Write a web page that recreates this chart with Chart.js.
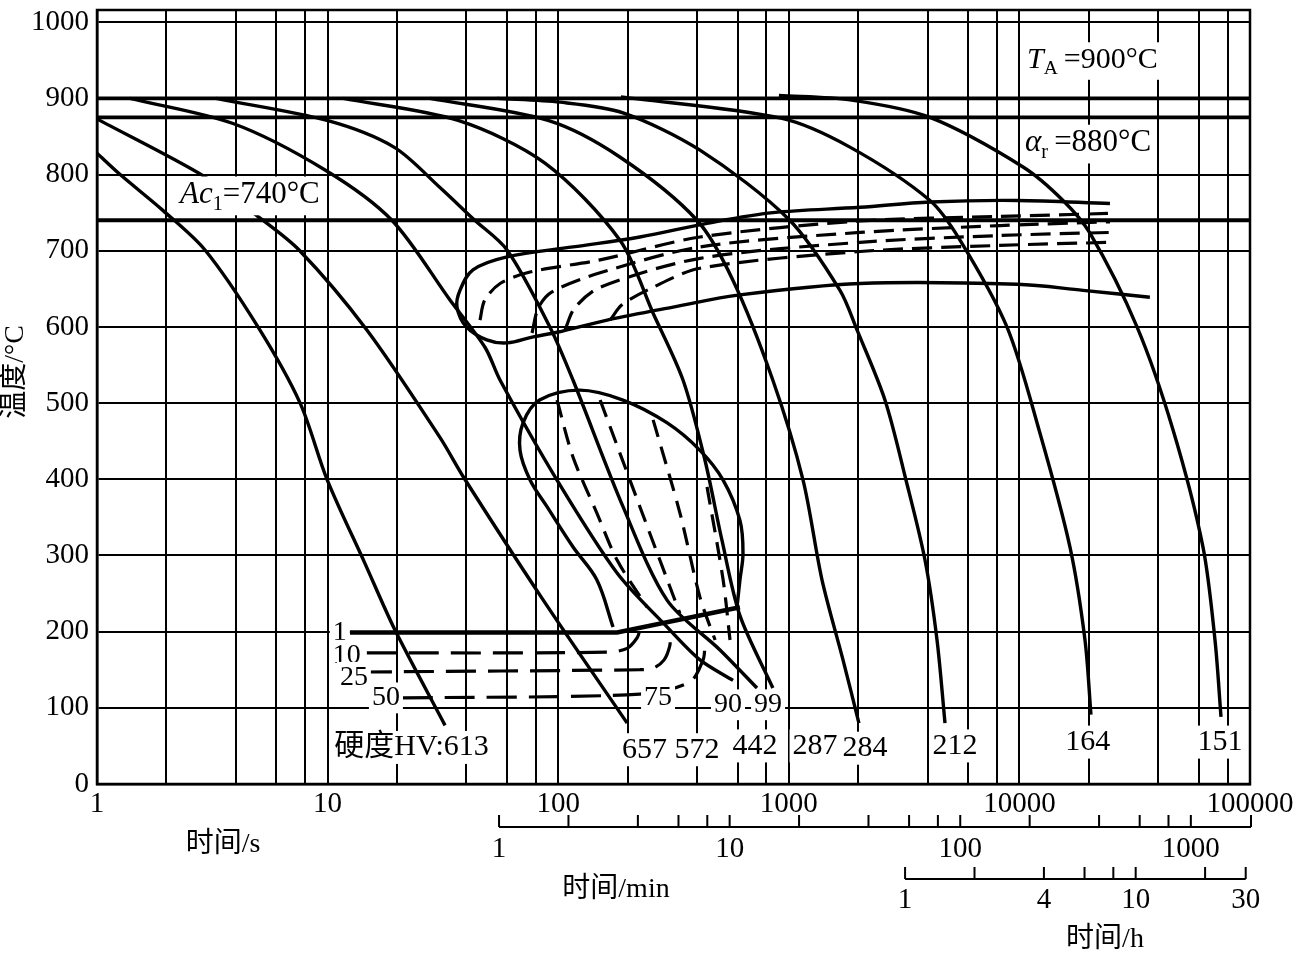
<!DOCTYPE html>
<html>
<head>
<meta charset="utf-8">
<script src="https://cdn.jsdelivr.net/npm/chart.js@4.4.1/dist/chart.umd.min.js"></script>
<style>
  html, body { margin: 0; padding: 0; background: #fff; }
  canvas { display: block; }
</style>
</head>
<body>
<canvas id="cct" width="1293" height="954"></canvas>
<script>
// grid and tick values (time in s, temperature in °C)
const xGridValues = [1, 2, 4, 6, 8, 10, 20, 40, 60, 80, 100, 200, 400, 600, 800, 1000,
  2000, 4000, 6000, 8000, 10000, 20000, 40000, 60000, 80000, 100000];
const xLabelValues = [1, 10, 100, 1000, 10000, 100000];
const yTickValues = [0, 100, 200, 300, 400, 500, 600, 700, 800, 900, 1000];
const criticalTemps = [900, 875, 740]; // T_A, alpha_r, Ac1

// cooling curves [time s, temp °C]
const curve613 = [[1, 828], [1.26, 800], [1.93, 753], [2.94, 701], [4.99, 600], [7.6, 500], [9.94, 400], [14.5, 290], [19.6, 202], [32.3, 77]];
const curve657 = [[1, 873], [2.94, 797], [4.89, 747], [7.52, 701], [14.8, 596], [30.7, 455], [39, 402], [85, 244], [199, 80]];
const curve572 = [[1.39, 900], [3.89, 867], [9.75, 806], [19, 740], [34, 635], [48.2, 573], [56, 530], [98.8, 399], [180, 277], [297, 206], [412, 163], [573, 136]];
const curve442 = [[3.28, 900], [9.94, 871], [19.4, 836], [30.7, 783], [43.1, 741], [60, 701], [92, 600], [116, 530], [191, 364], [297, 241], [503, 176], [728, 126]];
const curve287 = [[11.7, 900], [36.8, 871], [87.6, 815], [185, 714], [258, 618], [348, 530], [433, 425], [513, 320], [614, 221], [853, 126]];
const curve284 = [[27.8, 900], [90.3, 871], [185, 823], [400, 740], [573, 661], [853, 530], [1153, 399], [1393, 268], [1718, 163], [2014, 80]];
const curve212 = [[54.3, 900], [102, 895], [191, 881], [412, 832], [1002, 741], [1667, 648], [1976, 596], [2612, 504], [3222, 399], [3896, 294], [4393, 189], [4757, 80]];
const curve164 = [[187, 902], [925, 874], [1841, 836], [4093, 766], [5527, 714], [8830, 600], [12160, 465], [16570, 311], [19250, 189], [20430, 91]];
const curve151 = [[906, 904], [1841, 898], [4093, 875], [10370, 810], [15460, 766], [20230, 723], [32360, 600], [46350, 465], [62540, 311], [70500, 189], [74870, 88]];
const coolingCurves = [curve613, curve657, curve572, curve442, curve287, curve284, curve212, curve164, curve151];
const hardness = [613, 657, 572, 442, 287, 284, 212, 164, 151];

// ferrite/pearlite region
const pearliteOutline = [[24700, 762], [9770, 766], [4100, 764], [2037, 757], [854, 750], [442, 736], [226, 718], [116, 705], [60, 692],
  [42.7, 675], [37.5, 648], [36.4, 626], [40, 600], [49, 583], [60, 579], [78, 587], [99, 593], [163, 609], [315, 626], [614, 642],
  [2037, 657], [9770, 656], [18900, 648], [36800, 639]];
const pearlite10 = [[45.8, 609], [48, 635], [56, 657], [75.5, 672], [152, 688], [412, 718], [2037, 739], [8240, 745], [24700, 749]];
const pearlite25 = [[77, 592], [82, 625], [94, 646], [152, 671], [412, 705], [2037, 724], [8240, 733], [24700, 738]];
const pearlite50 = [[107, 596], [118, 625], [152, 652], [412, 690], [2037, 711], [8240, 720], [24700, 724]];
const pearlite75 = [[168, 609], [189, 629], [250, 650], [412, 677], [2037, 699], [8240, 707], [24700, 711]];

// bainite region
const bainiteOutline = [[173, 206], [147, 268], [116, 311], [89.4, 364], [75.5, 399], [68.3, 438], [70.4, 474], [83, 504], [124, 517],
  [191, 504], [297, 474], [412, 438], [519, 399], [614, 346], [633, 303], [614, 268], [596, 232]];
const bainiteA = [[98.8, 504], [116, 429], [147, 356], [180, 294], [243, 232]];
const bainiteB = [[152, 504], [226, 364], [337, 224]];
const bainiteC = [[258, 478], [337, 356], [412, 245], [479, 189]];
const bainiteD = [[442, 390], [519, 268], [556, 189]];

// martensite percent lines
const line1 = [[12.5, 199], [180, 199], [614, 232]];
const line10 = [[14.8, 172], [163, 173], [199, 178], [220, 192], [226, 202]];
const line25 = [[14.1, 147], [226, 150], [258, 152], [288, 163], [305, 182], [305, 195]];
const line50 = [[21.2, 113], [226, 118], [372, 134], [425, 163], [433, 182]];
const percentLabels = ['1', '10', '25', '50', '75', '90', '99'];

// secondary time axes
const minuteTicks = [1, 2, 4, 6, 8, 10, 20, 40, 60, 80, 100, 200, 400, 600, 800, 1000];
const minuteLabels = [1, 10, 100, 1000];
const hourTicks = [1, 2, 4, 6, 8, 10, 20, 30];
const hourLabels = [1, 4, 10, 30];

// label placement (time s, temp °C)
const hardnessPos = [[50, 48], [237, 45], [400, 45], [713, 50], [1300, 50], [2140, 47], [5260, 50], [19800, 55], [74100, 55]];
const percentPos = [[11.3, 199], [12.1, 169], [13.0, 140], [17.9, 113], [271, 114], [545, 104], [813, 104]];

const SERIF = '"Liberation Serif", "Times New Roman", "Noto Sans CJK SC", serif';

function pts(arr) {
  return arr.map(([x, y]) => ({ x, y }));
}
function solid(arr, width, tension) {
  return { data: pts(arr), borderColor: '#000', borderWidth: width, tension: tension, showLine: true, pointRadius: 0 };
}
function dashed(arr, dash, tension) {
  const ds = solid(arr, 3.2, tension);
  ds.borderDash = dash;
  return ds;
}

const datasets = [];
criticalTemps.forEach(t => datasets.push(solid([[1, t], [100000, t]], 3.8, 0)));
coolingCurves.forEach(c => datasets.push(solid(c, 3.4, 0.3)));
datasets.push(solid(pearliteOutline, 3.4, 0.35));
[pearlite10, pearlite25, pearlite50, pearlite75].forEach(c => datasets.push(dashed(c, [20, 9], 0.3)));
datasets.push(solid(bainiteOutline, 3.4, 0.35));
[bainiteA, bainiteB, bainiteC, bainiteD].forEach(c => datasets.push(dashed(c, [18, 10], 0.3)));
datasets.push(solid(line1, 4.5, 0));
[line10, line25, line50].forEach(c => datasets.push(dashed(c, [30, 12], 0.3)));

function textBox(ctx, text, px, py, size, align) {
  ctx.font = size + 'px ' + SERIF;
  const w = ctx.measureText(text).width;
  const left = align === 'right' ? px - w : align === 'left' ? px : px - w / 2;
  ctx.fillStyle = '#fff';
  ctx.fillRect(left - 3, py - size * 0.55, w + 6, size * 1.1);
  ctx.fillStyle = '#000';
  ctx.textAlign = 'left';
  ctx.textBaseline = 'middle';
  ctx.fillText(text, left, py);
}

function richText(ctx, parts, px, py, size) {
  let w = 0;
  parts.forEach(p => {
    ctx.font = (p.italic ? 'italic ' : '') + (p.sub ? size * 0.65 : size) + 'px ' + SERIF;
    p.w = ctx.measureText(p.t).width;
    w += p.w;
  });
  ctx.fillStyle = '#fff';
  ctx.fillRect(px - 3, py - size * 0.6, w + 6, size * 1.25);
  ctx.fillStyle = '#000';
  ctx.textAlign = 'left';
  ctx.textBaseline = 'middle';
  let cx = px;
  parts.forEach(p => {
    ctx.font = (p.italic ? 'italic ' : '') + (p.sub ? size * 0.65 : size) + 'px ' + SERIF;
    ctx.fillText(p.t, cx, p.sub ? py + size * 0.3 : py);
    cx += p.w;
  });
}

const decor = {
  id: 'decor',
  afterDatasetsDraw(chart) {
    const { ctx, chartArea: a, scales: { x, y } } = chart;
    ctx.save();
    ctx.strokeStyle = '#000';
    ctx.lineWidth = 2.5;
    ctx.strokeRect(a.left, a.top, a.right - a.left, a.bottom - a.top);

    richText(ctx, [{ t: 'A', italic: true }, { t: 'c', italic: true }, { t: '1', sub: true }, { t: '=740°C' }],
      x.getPixelForValue(2.29), y.getPixelForValue(773), 31);
    richText(ctx, [{ t: 'T', italic: true }, { t: 'A', sub: true }, { t: '\u2009=900°C' }],
      x.getPixelForValue(10790), y.getPixelForValue(950), 30);
    richText(ctx, [{ t: 'α', italic: true }, { t: 'r', sub: true }, { t: '\u2009=880°C' }],
      x.getPixelForValue(10570), y.getPixelForValue(841), 31);

    hardness.forEach((h, i) => {
      const [t, T] = hardnessPos[i];
      const text = i === 0 ? '硬度HV:' + h : String(h);
      textBox(ctx, text, x.getPixelForValue(t), y.getPixelForValue(T), 30, i === 0 ? 'right' : 'center');
    });
    percentLabels.forEach((p, i) => {
      const [t, T] = percentPos[i];
      textBox(ctx, p, x.getPixelForValue(t), y.getPixelForValue(T), 28, 'center');
    });
    ctx.restore();
  },
  afterDraw(chart) {
    const { ctx, scales: { x } } = chart;
    ctx.save();
    ctx.strokeStyle = '#000';
    ctx.fillStyle = '#000';
    ctx.lineWidth = 2;
    ctx.textAlign = 'center';
    ctx.textBaseline = 'middle';

    // minute axis
    const minOff = -8, minY = 827;
    ctx.beginPath();
    ctx.moveTo(x.getPixelForValue(60) + minOff, minY);
    ctx.lineTo(x.getPixelForValue(100000) + 1, minY);
    minuteTicks.forEach(m => {
      const px = x.getPixelForValue(m * 60) + minOff;
      ctx.moveTo(px, minY);
      ctx.lineTo(px, minY - 12);
    });
    ctx.moveTo(x.getPixelForValue(100000) + 1, minY);
    ctx.lineTo(x.getPixelForValue(100000) + 1, minY - 12);
    ctx.stroke();
    ctx.font = '29px ' + SERIF;
    minuteLabels.forEach(m => ctx.fillText(String(m), x.getPixelForValue(m * 60) + minOff, 849));

    // hour axis
    const hOff = -12, hY = 879;
    ctx.beginPath();
    ctx.moveTo(x.getPixelForValue(3600) + hOff, hY);
    ctx.lineTo(x.getPixelForValue(30 * 3600) + hOff, hY);
    hourTicks.forEach(h => {
      const px = x.getPixelForValue(h * 3600) + hOff;
      ctx.moveTo(px, hY);
      ctx.lineTo(px, hY - 12);
    });
    ctx.stroke();
    hourLabels.forEach(h => ctx.fillText(String(h), x.getPixelForValue(h * 3600) + hOff, 900));

    // axis titles
    ctx.font = '28px ' + SERIF;
    ctx.fillText('时间/s', 223, 845);
    ctx.fillText('时间/min', 616, 890);
    ctx.fillText('时间/h', 1105, 940);
    ctx.translate(16, 372);
    ctx.rotate(-Math.PI / 2);
    ctx.fillText('温度/°C', 0, 0);
    ctx.restore();
  }
};

new Chart(document.getElementById('cct'), {
  type: 'scatter',
  data: { datasets: datasets },
  options: {
    responsive: false,
    animation: false,
    layout: { padding: { left: 0, top: 10, right: 43, bottom: 0 } },
    plugins: { legend: { display: false }, tooltip: { enabled: false } },
    scales: {
      x: {
        type: 'logarithmic',
        min: 1,
        max: 100000,
        afterBuildTicks: axis => { axis.ticks = xGridValues.map(v => ({ value: v })); },
        afterFit: axis => { axis.height = 170; axis.paddingLeft = 0; axis.paddingRight = 0; },
        grid: { color: '#000', lineWidth: 2, drawTicks: false },
        border: { color: '#000', width: 2.5 },
        ticks: {
          autoSkip: false,
          maxRotation: 0,
          padding: 3,
          color: '#000',
          font: { family: SERIF, size: 29 },
          callback: v => xLabelValues.includes(v) ? String(v) : ''
        }
      },
      y: {
        min: 0,
        max: 1016,
        afterBuildTicks: axis => { axis.ticks = yTickValues.map(v => ({ value: v })); },
        afterFit: axis => { axis.width = 97; axis.paddingTop = 0; axis.paddingBottom = 0; },
        grid: { color: '#000', lineWidth: 2, drawTicks: false },
        border: { color: '#000', width: 2.5 },
        ticks: {
          padding: 8,
          color: '#000',
          font: { family: SERIF, size: 29 },
          callback: v => String(v)
        }
      }
    }
  },
  plugins: [decor]
});
</script>
</body>
</html>
